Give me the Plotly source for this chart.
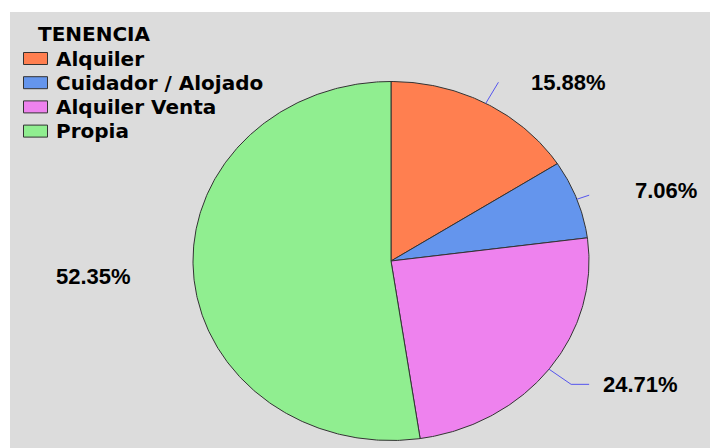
import numpy as np
import plotly.graph_objects as go

# ---- data ----
categories = ["Alquiler", "Cuidador / Alojado", "Alquiler Venta", "Propia"]
percentages = [15.88, 7.06, 24.71, 52.35]
colors = ["#FF7F50", "#6495ED", "#EE82EE", "#90EE90"]
legend_title = "TENENCIA"

# ---- layout constants (pixel space) ----
W, H = 710, 448
CX, CY, RX, RY = 391.0, 261.0, 198.0, 179.5
# per-slice label style: leader extension factor, horizontal tail, text offset
label_style = [
    dict(ext=1.134, horiz=0, dx=32, dy=0, line=True, anchor="left"),
    dict(ext=1.066, horiz=0, dx=45, dy=-5, line=True, anchor="left"),
    dict(ext=1.14, horiz=18, dx=13, dy=0, line=True, anchor="left"),
    dict(ext=1.0, horiz=0, dx=-62, dy=2, line=False, anchor="right"),
]

fig = go.Figure()
total = float(sum(percentages))
cum = 0.0
annotations = []
for cat, val, col, st in zip(categories, percentages, colors, label_style):
    f0, f1 = cum / total, (cum + val) / total
    n = max(4, int(600 * (f1 - f0)))
    th = np.linspace(f0, f1, n) * 2 * np.pi
    xs = np.concatenate([[CX], CX + RX * np.sin(th), [CX]])
    ys = np.concatenate([[CY], CY - RY * np.cos(th), [CY]])
    fig.add_trace(go.Scatter(
        x=xs, y=ys, mode="lines", fill="toself", fillcolor=col,
        line=dict(color="#333333", width=1), name=cat,
        hoverinfo="text", hoveron="fills", text=f"{cat}: {val:.2f}%",
        showlegend=False,
    ))
    # label + leader
    tm = (f0 + f1) / 2 * 2 * np.pi
    px, py = CX + RX * np.sin(tm), CY - RY * np.cos(tm)
    ex, ey = CX + st["ext"] * RX * np.sin(tm), CY - st["ext"] * RY * np.cos(tm)
    if st["line"]:
        lx = [px, ex] + ([ex + st["horiz"]] if st["horiz"] else [])
        ly = [py, ey] + ([ey] if st["horiz"] else [])
        fig.add_trace(go.Scatter(x=lx, y=ly, mode="lines",
                                 line=dict(color="#5555EE", width=1),
                                 hoverinfo="skip", showlegend=False))
        tx, ty = lx[-1] + st["dx"], ly[-1] + st["dy"]
    else:
        tx, ty = px + st["dx"], py + st["dy"]
    annotations.append(dict(
        x=tx, y=ty, xref="x", yref="y", text=f"<b>{val:.2f}%</b>",
        showarrow=False, xanchor=st["anchor"], yanchor="middle",
        borderpad=0,
        font=dict(family="Liberation Sans, Arial", size=22, color="black"),
    ))
    cum += val

shapes = [dict(type="rect", xref="x", yref="y", x0=10, y0=12, x1=W, y1=H,
               fillcolor="#DCDCDC", line=dict(width=0), layer="below")]

# manual legend
annotations.append(dict(
    x=37, y=34, xref="x", yref="y", text=f"<b>{legend_title}</b>",
    showarrow=False, xanchor="left", yanchor="middle", borderpad=0,
    font=dict(family="DejaVu Sans", size=20, color="black"),
))
for i, (cat, col) in enumerate(zip(categories, colors)):
    yc = 58.5 + 24.2 * i
    shapes.append(dict(type="rect", xref="x", yref="y", x0=23.5, x1=47.5,
                       y0=yc - 6, y1=yc + 6, fillcolor=col,
                       line=dict(color="#333333", width=1), layer="above"))
    annotations.append(dict(
        x=55, y=yc, xref="x", yref="y", text=f"<b>{cat}</b>",
        showarrow=False, xanchor="left", yanchor="middle", borderpad=0,
        font=dict(family="DejaVu Sans", size=20, color="black"),
    ))

fig.update_layout(
    width=W, height=H, autosize=False,
    margin=dict(l=0, r=0, t=0, b=0, pad=0),
    paper_bgcolor="white", plot_bgcolor="white",
    xaxis=dict(range=[0, W], visible=False, fixedrange=True),
    yaxis=dict(range=[H, 0], visible=False, fixedrange=True),
    shapes=shapes, annotations=annotations, showlegend=False,
)

fig.write_html("out.html")
